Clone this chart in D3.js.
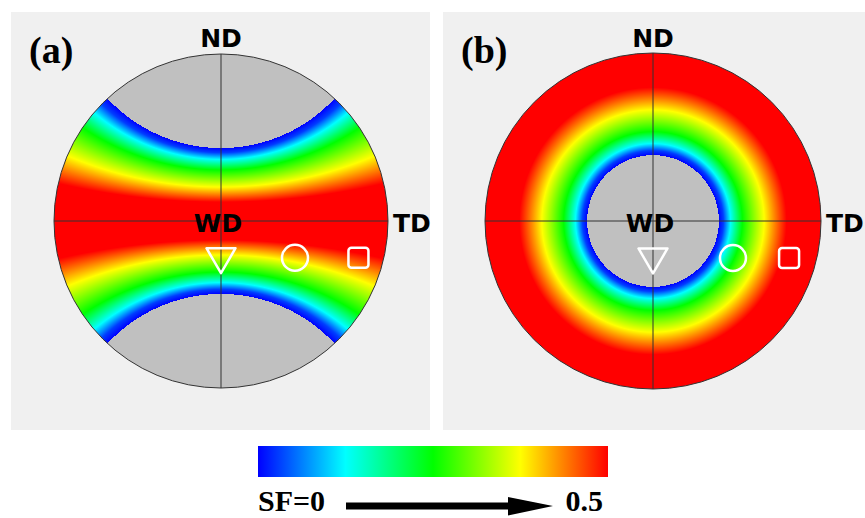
<!DOCTYPE html>
<html>
<head>
<meta charset="utf-8">
<script src="https://cdn.jsdelivr.net/npm/d3@7"></script>
<style>
    html, body { margin: 0; padding: 0; background: #ffffff; }
    svg { display: block; }
</style>
</head>
<body>
<svg id="chart" width="865" height="518"></svg>
<script>
// Schmid factor profile vs. angle between direction and loading axis (deg)
const angleStops = [42.8, 45.5, 49.5, 56, 67, 77, 90];
const sfStops = [0, 0.03, 0.125, 0.25, 0.375, 0.5, 0.5];
const grayBelowAngle = 42.8;

// colour bar
const sfTicks = [0, 0.125, 0.25, 0.375, 0.5];
const sfColors = ["#0000ff", "#00ffff", "#00ff00", "#ffff00", "#ff0000"];

// panels: loading axis ND for (a), WD for (b)
const panelNames = ["(a)", "(b)"];
const panelAxes = ["ND", "WD"];
const axisLabels = ["ND", "WD", "TD"];

// markers, in stereographic units (radius = 1)
const markerShapes = ["triangle", "circle", "square"];
const markerXA = [0, 0.443, 0.823];
const markerXB = [0, 0.476, 0.81];
const markerY = -0.22;

const width = 865;
const height = 518;

const panels = [
    { x0: 11, x1: 430, cx: 221, cy: 221, r: 167, markersX: markerXA },
    { x0: 443, x1: 868, cx: 653, cy: 221, r: 168, markersX: markerXB }
];
const panelTop = 12;
const panelBottom = 430;

const svg = d3.select("#chart");

const sfScale = d3.scaleLinear().domain(angleStops).range(sfStops).clamp(true);
const colorScale = d3.scaleLinear().domain(sfTicks).range(sfColors).clamp(true);

const defs = svg.append("defs");

panels.forEach((p, i) => {
    const g = svg.append("g").attr("class", `panel_${i}`);

    g.append("rect")
        .attr("x", p.x0)
        .attr("y", panelTop)
        .attr("width", p.x1 - p.x0)
        .attr("height", panelBottom - panelTop)
        .attr("fill", "#f0f0f0");

    const scaleX = d3.scaleLinear().domain([-1, 1]).range([p.cx - p.r, p.cx + p.r]);
    const scaleY = d3.scaleLinear().domain([-1, 1]).range([p.cy + p.r, p.cy - p.r]);

    // raster of the pole figure
    const x0 = Math.floor(p.cx - p.r) - 1;
    const y0 = Math.floor(p.cy - p.r) - 1;
    const size = Math.ceil(2 * p.r) + 3;
    const canvas = document.createElement("canvas");
    canvas.width = size;
    canvas.height = size;
    const ctx = canvas.getContext("2d");
    const img = ctx.createImageData(size, size);

    for (let j = 0; j < size; j++) {
        for (let k = 0; k < size; k++) {
            const u = scaleX.invert(x0 + k + 0.5);
            const v = scaleY.invert(y0 + j + 0.5);
            const rho2 = u * u + v * v;
            if (rho2 > 1.02) continue;

            const dND = (2 * v) / (1 + rho2);
            const dWD = (1 - rho2) / (1 + rho2);
            const cosAngle = panelAxes[i] === "ND" ? Math.abs(dND) : Math.abs(dWD);
            const angle = (Math.acos(Math.min(1, cosAngle)) * 180) / Math.PI;

            let c;
            if (angle < grayBelowAngle) {
                c = { r: 192, g: 192, b: 192 };
            } else {
                c = d3.rgb(colorScale(sfScale(angle)));
            }
            const idx = (j * size + k) * 4;
            img.data[idx] = c.r;
            img.data[idx + 1] = c.g;
            img.data[idx + 2] = c.b;
            img.data[idx + 3] = 255;
        }
    }
    ctx.putImageData(img, 0, 0);

    defs.append("clipPath")
        .attr("id", `disc_${i}`)
        .append("circle")
        .attr("cx", p.cx)
        .attr("cy", p.cy)
        .attr("r", p.r);

    g.append("image")
        .attr("x", x0)
        .attr("y", y0)
        .attr("width", size)
        .attr("height", size)
        .attr("href", canvas.toDataURL())
        .attr("clip-path", `url(#disc_${i})`);

    // cross lines
    g.append("line")
        .attr("x1", scaleX(-1)).attr("x2", scaleX(1))
        .attr("y1", scaleY(0)).attr("y2", scaleY(0))
        .attr("stroke", "#333").attr("stroke-width", 1);
    g.append("line")
        .attr("x1", scaleX(0)).attr("x2", scaleX(0))
        .attr("y1", scaleY(-1)).attr("y2", scaleY(1))
        .attr("stroke", "#333").attr("stroke-width", 1);

    g.append("circle")
        .attr("cx", p.cx)
        .attr("cy", p.cy)
        .attr("r", p.r)
        .attr("fill", "none")
        .attr("stroke", "#333")
        .attr("stroke-width", 1);

    // direction labels
    const labelFont = (sel) =>
        sel.attr("font-family", "DejaVu Sans, Verdana, sans-serif")
            .attr("font-weight", "bold")
            .attr("font-size", 25)
            .attr("fill", "#000");

    g.append("text").text(axisLabels[0])
        .attr("x", scaleX(0)).attr("y", 47)
        .attr("text-anchor", "middle").call(labelFont);
    g.append("text").text(axisLabels[1])
        .attr("x", scaleX(0) - 3).attr("y", 232)
        .attr("text-anchor", "middle").call(labelFont);
    g.append("text").text(axisLabels[2])
        .attr("x", scaleX(1) + 5).attr("y", 232)
        .attr("text-anchor", "start").call(labelFont);

    g.append("text").text(panelNames[i])
        .attr("x", p.x0 + 18).attr("y", 63)
        .attr("font-family", "Liberation Serif, Times New Roman, serif")
        .attr("font-weight", "bold")
        .attr("font-size", 38)
        .attr("fill", "#000");

    // markers
    markerShapes.forEach((shape, m) => {
        const mx = scaleX(p.markersX[m]);
        const my = scaleY(markerY);
        const mk = g.append(shape === "circle" ? "circle" : shape === "square" ? "rect" : "path")
            .attr("fill", "none")
            .attr("stroke", "#ffffff")
            .attr("stroke-width", 2.5)
            .attr("stroke-linejoin", "round");
        if (shape === "circle") {
            mk.attr("cx", mx).attr("cy", my).attr("r", 13);
        } else if (shape === "square") {
            mk.attr("x", mx - 10).attr("y", my - 10).attr("width", 20).attr("height", 20).attr("rx", 3);
        } else {
            const ty = my + 3;
            mk.attr("d", `M${mx - 14.5},${ty - 12.5}L${mx + 14.5},${ty - 12.5}L${mx},${ty + 12.5}Z`);
        }
    });
});

// colour bar
const barScale = d3.scaleLinear().domain([0, 0.5]).range([258, 608]);
const grad = defs.append("linearGradient").attr("id", "sfGradient");
sfTicks.forEach((t, i) => {
    grad.append("stop")
        .attr("offset", `${(t / 0.5) * 100}%`)
        .attr("stop-color", sfColors[i]);
});
svg.append("rect")
    .attr("x", barScale(0))
    .attr("y", 446)
    .attr("width", barScale(0.5) - barScale(0))
    .attr("height", 31)
    .attr("fill", "url(#sfGradient)");

svg.append("text").text("SF=0")
    .attr("x", barScale(0)).attr("y", 511)
    .attr("font-family", "Liberation Serif, Times New Roman, serif")
    .attr("font-weight", "bold").attr("font-size", 30).attr("fill", "#000");
svg.append("text").text("0.5")
    .attr("x", 603).attr("y", 511)
    .attr("text-anchor", "end")
    .attr("font-family", "Liberation Serif, Times New Roman, serif")
    .attr("font-weight", "bold").attr("font-size", 30).attr("fill", "#000");

// arrow
svg.append("path")
    .attr("d", "M346,502.5L508,502.5L508,497L553,506L508,515.5L508,509.5L346,509.5Z")
    .attr("fill", "#000");
</script>
</body>
</html>
